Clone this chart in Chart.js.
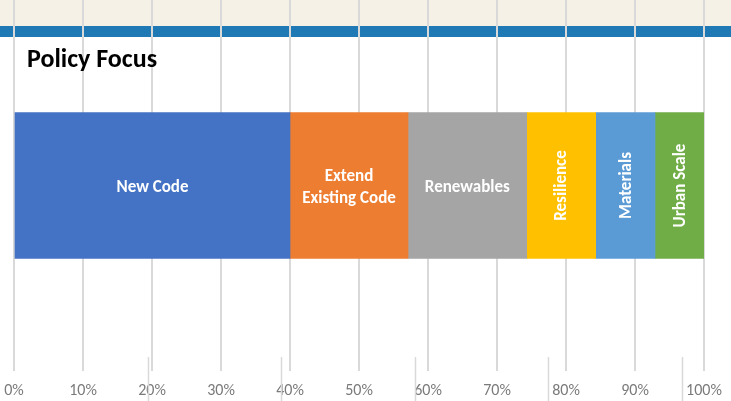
<!DOCTYPE html>
<html>
<head>
<meta charset="utf-8">
<script src="https://cdn.jsdelivr.net/npm/chart.js@4"></script>
<style>
html,body{margin:0;padding:0;background:#fff;}
#wrap{width:731px;height:401px;position:relative;}
</style>
</head>
<body>
<div id="wrap"><canvas id="c" width="731" height="401"></canvas></div>
<script>
const titleText = 'Policy Focus';
const categories = ['New Code', 'Extend\nExisting Code', 'Renewables', 'Resilience', 'Materials', 'Urban Scale'];
const shares = [40, 17.1, 17.2, 10, 8.6, 7.1];
const colors = ['#4472C4', '#ED7D31', '#A5A5A5', '#FFC000', '#5B9BD5', '#70AD47'];
const tickValues = [0, 10, 20, 30, 40, 50, 60, 70, 80, 90, 100];

const FONT = 'Carlito, Calibri, Lato, "Open Sans", sans-serif';

const decor = {
  id: 'decor',
  beforeDraw(chart) {
    const ctx = chart.ctx;
    ctx.save();
    ctx.fillStyle = '#F5F1E6';
    ctx.fillRect(0, 0, chart.width, 26);
    ctx.fillStyle = '#1F79B5';
    ctx.fillRect(0, 26, chart.width, 11);
    ctx.restore();
  },
  afterDatasetsDraw(chart) {
    const ctx = chart.ctx;
    ctx.save();
    // segment labels
    chart.data.datasets.forEach((ds, i) => {
      const meta = chart.getDatasetMeta(i);
      const el = meta.data[0];
      if (!el) return;
      const p = el.getProps(['x', 'y', 'base', 'height'], true);
      const cx = (p.x + p.base) / 2;
      const cy = p.y;
      const w = Math.abs(p.x - p.base);
      const lines = ds.label.split('\n');
      ctx.fillStyle = '#ffffff';
      ctx.font = 'bold 17px ' + FONT;
      ctx.textAlign = 'center';
      ctx.textBaseline = 'middle';
      ctx.save();
      ctx.translate(cx, cy);
      const rotated = w < 80;
      if (rotated) ctx.rotate(-Math.PI / 2);
      const lh = 22;
      lines.forEach((t, k) => {
        const off = (k - (lines.length - 1) / 2) * lh;
        if (rotated) ctx.fillText(t, 0, off + 1);
        else ctx.fillText(t, 0, off + 2);
      });
      ctx.restore();
    });
    // title
    ctx.fillStyle = '#000000';
    ctx.font = 'bold 26px ' + FONT;
    ctx.textAlign = 'left';
    ctx.textBaseline = 'middle';
    ctx.fillText(titleText, 27, 60);
    // faint secondary ticks near the bottom
    const xs = chart.scales.x;
    ctx.strokeStyle = '#d9d9d9';
    ctx.lineWidth = 1.5;
    [19.35, 38.7, 58.05, 77.4, 96.75].forEach(v => {
      const x = Math.round(xs.getPixelForValue(v)) + 0.5;
      ctx.beginPath();
      ctx.moveTo(x, 357);
      ctx.lineTo(x, 401);
      ctx.stroke();
    });
    ctx.restore();
  }
};

const chart = new Chart(document.getElementById('c'), {
  type: 'bar',
  data: {
    labels: [''],
    datasets: categories.map((name, i) => ({
      label: name,
      data: [shares[i]],
      backgroundColor: colors[i],
      borderWidth: 0,
      barThickness: 146
    }))
  },
  options: {
    indexAxis: 'y',
    responsive: false,
    animation: false,
    layout: { padding: { left: 14, right: 27, top: 0, bottom: 0 } },
    plugins: {
      legend: { display: false },
      title: { display: false },
      tooltip: { enabled: false }
    },
    scales: {
      x: {
        stacked: true,
        min: 0,
        max: 100,
        afterBuildTicks(scale) { scale.ticks = tickValues.map(v => ({ value: v })); },
        afterFit(scale) { scale.height = 30; scale.paddingLeft = 0; scale.paddingRight = 0; },
        grid: { color: '#d9d9d9', lineWidth: 2, drawTicks: false },
        border: { display: false },
        ticks: {
          padding: 10,
          color: '#7a7a7a',
          font: { family: FONT, size: 16 },
          callback: v => v + '%'
        }
      },
      y: {
        stacked: true,
        display: false
      }
    }
  },
  plugins: [decor]
});
</script>
</body>
</html>
